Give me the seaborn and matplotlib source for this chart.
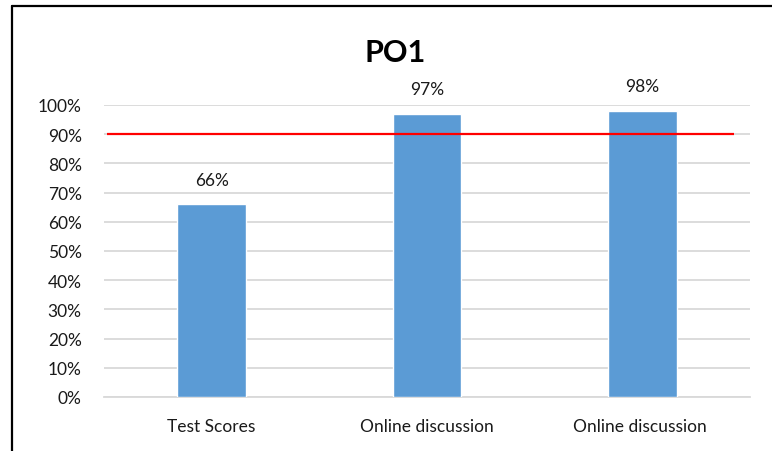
import matplotlib
matplotlib.use("Agg")
import matplotlib.pyplot as plt
import seaborn as sns
import pandas as pd
from matplotlib.lines import Line2D

categories = ["Test Scores", "Online discussion", "Online discussion "]
scores = [66, 97, 98]
target = 90
yticks = [0, 10, 20, 30, 40, 50, 60, 70, 80, 90, 100]

sns.set_style("white")
plt.rcParams["font.family"] = ["Lato", "DejaVu Sans"]

df = pd.DataFrame({"category": categories, "score": scores})

fig = plt.figure(figsize=(7.72, 4.52), dpi=100)
ax = fig.add_axes([0.1347, 0.1195, 0.8368, 0.646])

sns.barplot(data=df, x="category", y="score", color="#5B9BD5", saturation=1,
            width=0.32, ax=ax, zorder=3)

ax.hlines(target, -0.484, 2.428, color="#FF0000", linewidth=1.6, zorder=4)

for i, v in enumerate(scores):
    ax.annotate(f"{v}%", (i, v), xytext=(0, 12), textcoords="offset points",
                ha="center", va="bottom", fontsize=12.5, color="#1a1a1a")

ax.set_ylim(0, 100)
ax.set_xlim(-0.5, 2.5)
ax.set_yticks(yticks)
ax.set_yticklabels([f"{t}%" for t in yticks])
ax.yaxis.grid(True, color="#D9D9D9", linewidth=1.3, zorder=0)
ax.set_axisbelow(True)
ax.set_xlabel("")
ax.set_ylabel("")
for s in ["top", "right", "left"]:
    ax.spines[s].set_visible(False)
ax.spines["bottom"].set_color("#D9D9D9")
ax.spines["bottom"].set_linewidth(1.3)
ax.tick_params(axis="both", length=0, labelsize=12.5, colors="#1a1a1a")
ax.tick_params(axis="x", pad=15)
ax.tick_params(axis="y", pad=16)

fig.text(0.512, 0.882, "PO1", ha="center", va="center", fontsize=22,
         fontweight="bold", color="black")

# chart border (left and top edges visible)
fig.add_artist(Line2D([11.5 / 772, 11.5 / 772], [0, 1 - 7 / 452],
                      transform=fig.transFigure, color="black", linewidth=1.6))
fig.add_artist(Line2D([11.5 / 772, 1], [1 - 7 / 452, 1 - 7 / 452],
                      transform=fig.transFigure, color="black", linewidth=1.6))

fig.savefig("out.png", dpi=100)
